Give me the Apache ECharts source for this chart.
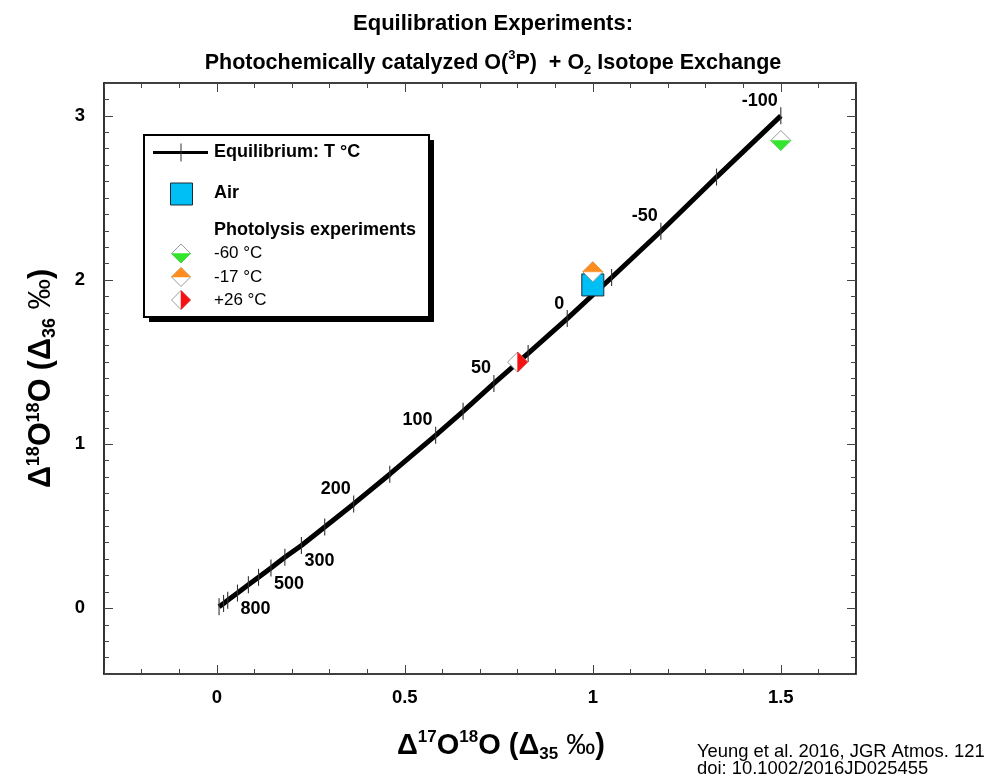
<!DOCTYPE html>
<html><head><meta charset="utf-8">
<script src="https://cdn.jsdelivr.net/npm/echarts@6/dist/echarts.min.js"></script>
<style>html,body{margin:0;padding:0;background:#fff}#c{width:986px;height:782px}</style>
</head><body><div id="c"></div>
<script>
const FONT = '"Liberation Sans", Arial, Helvetica, sans-serif';

// Equilibrium curve: temperature ticks (°C) with their Δ35 and Δ36 values (‰)
const eqTemps = [1500, 1200, 1000, 800, 700, 600, 500, 400, 300, 250, 200, 150, 100, 75, 50, 25, 0, -25, -50, -75, -100];
const eqD35 = [0.006, 0.018, 0.029, 0.055, 0.084, 0.111, 0.144, 0.181, 0.225, 0.287, 0.364, 0.460, 0.582, 0.655, 0.737, 0.828, 0.932, 1.050, 1.181, 1.329, 1.500];
const eqD36 = [0.010, 0.030, 0.049, 0.093, 0.143, 0.189, 0.246, 0.311, 0.383, 0.495, 0.636, 0.817, 1.054, 1.200, 1.370, 1.553, 1.765, 2.015, 2.297, 2.627, 3.000];
const eqLabeled = [800, 500, 300, 200, 100, 50, 0, -50, -100];

// Air
const airD35 = [1.0];
const airD36 = [1.97];

// Photolysis experiments
const expNames = ['-60 °C', '-17 °C', '+26 °C'];
const expD35 = [1.5, 1.0, 0.8];
const expD36 = [2.85, 2.05, 1.50];

// Axis tick labels
const xMajorTicks = [0, 0.5, 1, 1.5];
const yMajorTicks = [0, 1, 2, 3];

// ---- styles ----
const expStyle = {
  '-60 °C': { half: 'bottom', color: '#33e52c' },
  '-17 °C': { half: 'top', color: '#ff8c1f' },
  '+26 °C': { half: 'right', color: '#f71212' }
};
const AIR_COLOR = '#00bff5';

function diamondShapes(cx, cy, r, st) {
  const full = [[cx, cy - r], [cx + r, cy], [cx, cy + r], [cx - r, cy]];
  let half;
  if (st.half === 'bottom') half = [[cx - r, cy], [cx + r, cy], [cx, cy + r]];
  else if (st.half === 'top') half = [[cx - r, cy], [cx, cy - r], [cx + r, cy]];
  else half = [[cx, cy - r], [cx + r, cy], [cx, cy + r]];
  return [
    { type: 'polygon', shape: { points: full }, style: { fill: '#fff', stroke: '#9a9a9a', lineWidth: 1 } },
    { type: 'polygon', shape: { points: half }, style: { fill: st.color, stroke: st.color, lineWidth: 0.5 } }
  ];
}

const X_MIN = -0.3, X_MAX = 1.7, Y_MIN = -0.4, Y_MAX = 3.2;
const lineStyleAxis = { color: '#000', width: 1.6 };
const tickStyle = { color: '#444', width: 1 };
const labelFont = { fontFamily: FONT, fontWeight: 'bold', fontSize: 18.5, color: '#000' };

function axis(dim, pos, opts) {
  const base = {
    type: 'value', position: pos,
    min: dim === 'x' ? X_MIN : Y_MIN, max: dim === 'x' ? X_MAX : Y_MAX,
    splitLine: { show: false },
    axisLine: { show: false, onZero: false },
    axisLabel: { show: false },
    axisTick: { show: false }
  };
  return Object.assign(base, opts);
}

const rt = (main, small) => ({
  d: { fontFamily: FONT, fontWeight: 'bold', fontSize: main, lineHeight: 34, color: '#000' },
  sup: { fontFamily: FONT, fontWeight: 'bold', fontSize: small, lineHeight: small, verticalAlign: 'top', color: '#000' },
  sub: { fontFamily: FONT, fontWeight: 'bold', fontSize: small, lineHeight: small - 2, verticalAlign: 'bottom', color: '#000' },
  pm: { fontFamily: FONT, fontWeight: 'normal', fontSize: main, lineHeight: 34, color: '#000' }
});

const xName = '{d|Δ}{sup|17}{d|O}{sup|18}{d|O (Δ}{sub|35}{d| }{pm|‰}{d|)}';
const yName = '{d|Δ}{sup|18}{d|O}{sup|18}{d|O (Δ}{sub|36}{d| }{pm|‰}{d|)}';

const xAxes = [
  axis('x', 'bottom', { interval: 0.1, axisLine: { show: true, onZero: false, lineStyle: lineStyleAxis },
    axisTick: { show: true, inside: true, length: 5, lineStyle: tickStyle } }),
  axis('x', 'bottom', { axisTick: { show: true, inside: true, length: 9, customValues: xMajorTicks, lineStyle: tickStyle },
    axisLabel: Object.assign({ show: true, customValues: xMajorTicks, margin: 14, formatter: v => String(v) }, labelFont),
    name: xName, nameLocation: 'middle', nameGap: 55, nameTextStyle: { rich: rt(29, 17), padding: [0, 0, 0, 42] } }),
  axis('x', 'top', { interval: 0.1, axisLine: { show: true, onZero: false, lineStyle: lineStyleAxis },
    axisTick: { show: true, inside: true, length: 5, lineStyle: tickStyle } }),
  axis('x', 'top', { axisTick: { show: true, inside: true, length: 9, customValues: xMajorTicks, lineStyle: tickStyle } })
];
const yAxes = [
  axis('y', 'left', { interval: 0.1, axisLine: { show: true, onZero: false, lineStyle: lineStyleAxis },
    axisTick: { show: true, inside: true, length: 5, lineStyle: tickStyle } }),
  axis('y', 'left', { axisTick: { show: true, inside: true, length: 9, customValues: yMajorTicks, lineStyle: tickStyle },
    axisLabel: Object.assign({ show: true, customValues: yMajorTicks, margin: 19, formatter: v => String(v) }, labelFont),
    name: yName, nameLocation: 'middle', nameGap: 45, nameRotate: 90, nameTextStyle: { rich: rt(30.5, 18) } }),
  axis('y', 'right', { interval: 0.1, axisLine: { show: true, onZero: false, lineStyle: lineStyleAxis },
    axisTick: { show: true, inside: true, length: 5, lineStyle: tickStyle } }),
  axis('y', 'right', { axisTick: { show: true, inside: true, length: 9, customValues: yMajorTicks, lineStyle: tickStyle } })
];

// ---- legend graphic ----
const LG = { x: 144, y: 135, w: 285, h: 182 };
const legendEls = [
  { type: 'rect', shape: { x: LG.x + 5, y: LG.y + 5, width: LG.w, height: LG.h }, style: { fill: '#000' }, z: 100 },
  { type: 'rect', shape: { x: LG.x, y: LG.y, width: LG.w, height: LG.h }, style: { fill: '#fff', stroke: '#000', lineWidth: 2 }, z: 101 },
  { type: 'line', shape: { x1: 153, y1: 152.5, x2: 208, y2: 152.5 }, style: { stroke: '#000', lineWidth: 3 }, z: 102 },
  { type: 'line', shape: { x1: 181, y1: 143.5, x2: 181, y2: 161.5 }, style: { stroke: '#333', lineWidth: 1 }, z: 102 },
  { type: 'text', x: 214, y: 152, style: { text: 'Equilibrium: T °C', font: 'bold 18px ' + FONT, fill: '#000', verticalAlign: 'middle' }, z: 102 },
  { type: 'rect', shape: { x: 170.5, y: 183, width: 22, height: 22 }, style: { fill: AIR_COLOR, stroke: '#1d2a33', lineWidth: 1 }, z: 102 },
  { type: 'text', x: 214, y: 193.5, style: { text: 'Air', font: 'bold 18px ' + FONT, fill: '#000', verticalAlign: 'middle' }, z: 102 },
  { type: 'text', x: 214, y: 230, style: { text: 'Photolysis experiments', font: 'bold 18px ' + FONT, fill: '#000', verticalAlign: 'middle' }, z: 102 }
];
const legendRowsY = [253.5, 277, 300];
expNames.forEach((n, i) => {
  diamondShapes(181, legendRowsY[i], 9.5, expStyle[n]).forEach(s => { s.z = 102; legendEls.push(s); });
  legendEls.push({ type: 'text', x: 214, y: legendRowsY[i], style: { text: n, font: '17px ' + FONT, fill: '#000', verticalAlign: 'middle' }, z: 102 });
});
legendEls.push({ type: 'text', x: 697, y: 752, style: { text: 'Yeung et al. 2016, JGR Atmos. 121', font: '18.4px ' + FONT, fill: '#000', verticalAlign: 'middle' } });
legendEls.push({ type: 'text', x: 697, y: 769, style: { text: 'doi: 10.1002/2016JD025455', font: '18.4px ' + FONT, fill: '#000', verticalAlign: 'middle' } });

const option = {
  backgroundColor: '#fff',
  animation: false,
  title: [
    { text: 'Equilibration Experiments:', left: 'center', top: 8, padding: [5, 12, 5, 0],
      textStyle: { fontFamily: FONT, fontWeight: 'bold', fontSize: 22, color: '#000' } },
    { text: 'Photochemically catalyzed O({sup|3}{t|P})  + O{sub|2} Isotope Exchange', left: 'center', top: 44, padding: [5, 16, 5, 0],
      textStyle: { fontFamily: FONT, fontWeight: 'bold', fontSize: 21.5, color: '#000', lineHeight: 28,
        rich: {
          t: { fontFamily: FONT, fontWeight: 'bold', fontSize: 21.5, lineHeight: 28, color: '#000' },
          sup: { fontFamily: FONT, fontWeight: 'bold', fontSize: 13, lineHeight: 15, verticalAlign: 'top', color: '#000' },
          sub: { fontFamily: FONT, fontWeight: 'bold', fontSize: 13, lineHeight: 12, verticalAlign: 'bottom', color: '#000' }
        } } }
  ],
  grid: { left: 104, top: 83, right: 130, bottom: 108, containLabel: false },
  xAxis: xAxes,
  yAxis: yAxes,
  graphic: legendEls,
  series: [
    { name: 'Equilibrium', type: 'line', xAxisIndex: 0, yAxisIndex: 0, symbol: 'none', z: 2,
      data: eqD35.map((x, i) => [x, eqD36[i]]),
      lineStyle: { color: '#000', width: 5 } },
    { name: 'T ticks', type: 'custom', xAxisIndex: 0, yAxisIndex: 0, z: 3,
      data: eqTemps.map((t, i) => [eqD35[i], eqD36[i], t]),
      renderItem: (params, api) => {
        const p = api.coord([api.value(0), api.value(1)]);
        const t = api.value(2);
        const ch = [{ type: 'line', shape: { x1: p[0], y1: p[1] - 8.5, x2: p[0], y2: p[1] + 8.5 }, style: { stroke: '#333', lineWidth: 1.1 } }];
        if (eqLabeled.indexOf(t) >= 0) {
          const below = t >= 300;
          ch.push({ type: 'text', x: below ? p[0] + 3 : p[0] - 3, y: below ? p[1] + 16 : p[1] - 15,
            style: { text: String(t), font: 'bold 18px ' + FONT, fill: '#000', align: below ? 'left' : 'right', verticalAlign: 'middle' } });
        }
        return { type: 'group', children: ch };
      } },
    { name: 'Air', type: 'scatter', xAxisIndex: 0, yAxisIndex: 0, z: 4, symbol: 'rect', symbolSize: 22,
      data: airD35.map((x, i) => [x, airD36[i]]),
      itemStyle: { color: AIR_COLOR, borderColor: '#1d2a33', borderWidth: 1, opacity: 1 } },
    { name: 'Photolysis', type: 'custom', xAxisIndex: 0, yAxisIndex: 0, z: 5,
      data: expNames.map((n, i) => [expD35[i], expD36[i], i]),
      renderItem: (params, api) => {
        const p = api.coord([api.value(0), api.value(1)]);
        const st = expStyle[expNames[api.value(2)]];
        return { type: 'group', children: diamondShapes(p[0], p[1], 10, st) };
      } }
  ]
};
echarts.init(document.getElementById('c')).setOption(option);
</script>
</body></html>
